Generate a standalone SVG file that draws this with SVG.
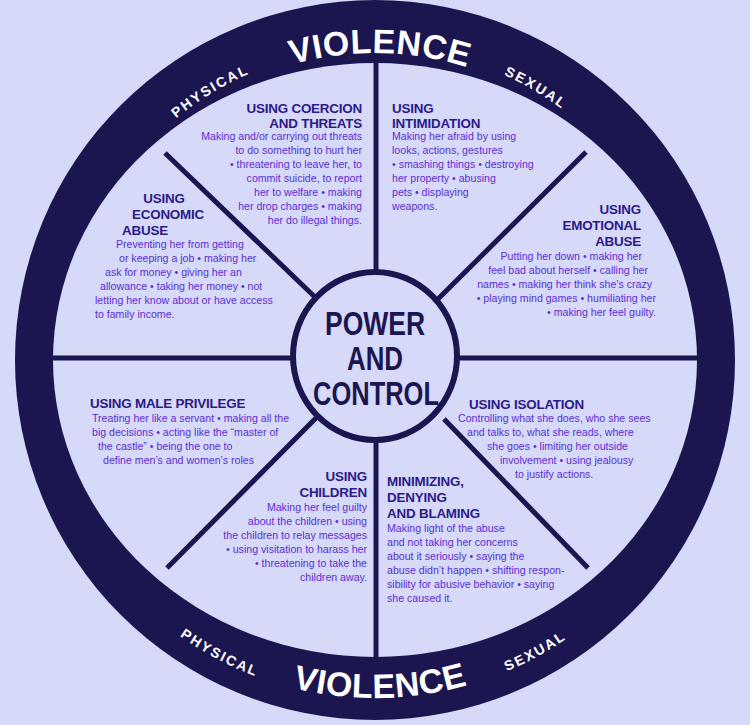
<svg xmlns="http://www.w3.org/2000/svg" width="750" height="725" viewBox="0 0 750 725">
<defs>
<style>
.h{font-family:"Liberation Sans",Arial,sans-serif;font-weight:bold;font-size:13.4px;letter-spacing:-0.2px;fill:#2c1a88}
.b{font-family:"Liberation Sans",Arial,sans-serif;font-size:10.6px;fill:#5a2fd0}
.r{text-anchor:end}
.ring{font-family:"Liberation Sans",Arial,sans-serif;font-weight:bold;fill:#ffffff}
.c{font-family:"Liberation Sans",Arial,sans-serif;font-weight:bold;font-size:33px;fill:#1c1650;text-anchor:middle}
.sp{stroke:#1c1650;stroke-width:5;fill:none}
</style>
<path id="top" d="M 68,360 A 307 307 0 0 1 682,360"/>
<path id="top2" d="M 62,360 A 313 313 0 0 1 688,360"/>
<path id="bot" d="M 37,360 A 338 338 0 0 0 713,360"/>
</defs>
<rect width="750" height="725" fill="#d6d9f7"/>
<g id="ring">
<ellipse cx="375" cy="360" rx="360" ry="360" fill="#1c1650"/>
<ellipse cx="375" cy="360" rx="322" ry="297" fill="#d6d9f7"/>
<text class="ring" font-size="34" letter-spacing="0.5"><textPath href="#top" startOffset="50.5%" text-anchor="middle">VIOLENCE</textPath></text>
<text class="ring" font-size="14" letter-spacing="2"><textPath href="#top2" startOffset="32.5%" text-anchor="middle">PHYSICAL</textPath></text>
<text class="ring" font-size="14" letter-spacing="2"><textPath href="#top2" startOffset="67%" text-anchor="middle">SEXUAL</textPath></text>
<text class="ring" font-size="34" letter-spacing="0.5"><textPath href="#bot" startOffset="50.5%" text-anchor="middle">VIOLENCE</textPath></text>
<text class="ring" font-size="14" letter-spacing="2"><textPath href="#bot" startOffset="34.5%" text-anchor="middle">PHYSICAL</textPath></text>
<text class="ring" font-size="14" letter-spacing="2"><textPath href="#bot" startOffset="66%" text-anchor="middle">SEXUAL</textPath></text>
</g>
<g id="connectors">
<line class="sp" x1="376" y1="62" x2="376" y2="274"/>
<line class="sp" x1="376" y1="438" x2="376" y2="658"/>
<line class="sp" x1="52" y1="358" x2="293" y2="358"/>
<line class="sp" x1="457" y1="358" x2="698" y2="358"/>
<line class="sp" x1="165" y1="153" x2="318" y2="300"/>
<line class="sp" x1="586" y1="152" x2="438" y2="299"/>
<line class="sp" x1="167" y1="568" x2="316" y2="418"/>
<line class="sp" x1="588" y1="568" x2="444" y2="419"/>
</g>
<g id="center">
<ellipse cx="375" cy="356" rx="82" ry="84" fill="#d6d9f7" stroke="#1c1650" stroke-width="6"/>
<text class="c" x="375" y="335" textLength="100" lengthAdjust="spacingAndGlyphs">POWER</text>
<text class="c" x="375" y="370" textLength="56" lengthAdjust="spacingAndGlyphs">AND</text>
<text class="c" x="376" y="405" textLength="126" lengthAdjust="spacingAndGlyphs">CONTROL</text>
</g>
<g id="coercion">
<text class="h r" x="362" y="113">USING COERCION</text>
<text class="h r" x="362" y="128">AND THREATS</text>
<text class="b r" x="362" y="140">Making and/or carrying out threats</text>
<text class="b r" x="362" y="154">to do something to hurt her</text>
<text class="b r" x="362" y="168">• threatening to leave her, to</text>
<text class="b r" x="362" y="182">commit suicide, to report</text>
<text class="b r" x="362" y="196">her to welfare • making</text>
<text class="b r" x="362" y="210">her drop charges • making</text>
<text class="b r" x="362" y="224">her do illegal things.</text>
</g>
<g id="intimidation">
<text class="h" x="392" y="113">USING</text>
<text class="h" x="392" y="128">INTIMIDATION</text>
<text class="b" x="392" y="140">Making her afraid by using</text>
<text class="b" x="392" y="154">looks, actions, gestures</text>
<text class="b" x="392" y="168">• smashing things • destroying</text>
<text class="b" x="392" y="182">her property • abusing</text>
<text class="b" x="392" y="196">pets • displaying</text>
<text class="b" x="392" y="210">weapons.</text>
</g>
<g id="economic">
<text class="h" x="164" y="203" text-anchor="middle">USING</text>
<text class="h" x="168" y="219" text-anchor="middle">ECONOMIC</text>
<text class="h" x="122" y="235">ABUSE</text>
<text class="b" x="116" y="248">Preventing her from getting</text>
<text class="b" x="119" y="262">or keeping a job • making her</text>
<text class="b" x="105" y="276">ask for money • giving her an</text>
<text class="b" x="100" y="290">allowance • taking her money • not</text>
<text class="b" x="95" y="304">letting her know about or have access</text>
<text class="b" x="95" y="318">to family income.</text>
</g>
<g id="emotional">
<text class="h r" x="641" y="214">USING</text>
<text class="h r" x="641" y="230">EMOTIONAL</text>
<text class="h r" x="641" y="246">ABUSE</text>
<text class="b r" x="642" y="260">Putting her down • making her</text>
<text class="b r" x="648" y="274">feel bad about herself • calling her</text>
<text class="b r" x="652" y="288">names • making her think she’s crazy</text>
<text class="b r" x="656" y="302">• playing mind games • humiliating her</text>
<text class="b r" x="656" y="316">• making her feel guilty.</text>
</g>
<g id="privilege">
<text class="h" x="90" y="408">USING MALE PRIVILEGE</text>
<text class="b" x="92" y="422">Treating her like a servant • making all the</text>
<text class="b" x="92" y="436">big decisions • acting like the “master of</text>
<text class="b" x="98" y="450">the castle”  • being the one to</text>
<text class="b" x="103" y="464">define men’s and women’s roles</text>
</g>
<g id="isolation">
<text class="h" x="469" y="409">USING ISOLATION</text>
<text class="b" x="458" y="422">Controlling what she does, who she sees</text>
<text class="b" x="467" y="436">and talks to, what she reads, where</text>
<text class="b" x="487" y="450">she goes • limiting her outside</text>
<text class="b" x="500" y="464">involvement • using jealousy</text>
<text class="b" x="515" y="478">to justify actions.</text>
</g>
<g id="children">
<text class="h r" x="367" y="481">USING</text>
<text class="h r" x="367" y="497">CHILDREN</text>
<text class="b r" x="367" y="511">Making her feel guilty</text>
<text class="b r" x="367" y="525">about the children • using</text>
<text class="b r" x="367" y="539">the children to relay messages</text>
<text class="b r" x="367" y="553">• using visitation to harass her</text>
<text class="b r" x="367" y="567">• threatening to take the</text>
<text class="b r" x="367" y="581">children away.</text>
</g>
<g id="minimizing">
<text class="h" x="387" y="486">MINIMIZING,</text>
<text class="h" x="387" y="502">DENYING</text>
<text class="h" x="387" y="518">AND BLAMING</text>
<text class="b" x="387" y="532">Making light of the abuse</text>
<text class="b" x="387" y="546">and not taking her concerns</text>
<text class="b" x="387" y="560">about it seriously • saying the</text>
<text class="b" x="387" y="574">abuse didn’t happen • shifting respon-</text>
<text class="b" x="387" y="588">sibility for abusive behavior • saying</text>
<text class="b" x="387" y="602">she caused it.</text>
</g>
</svg>
